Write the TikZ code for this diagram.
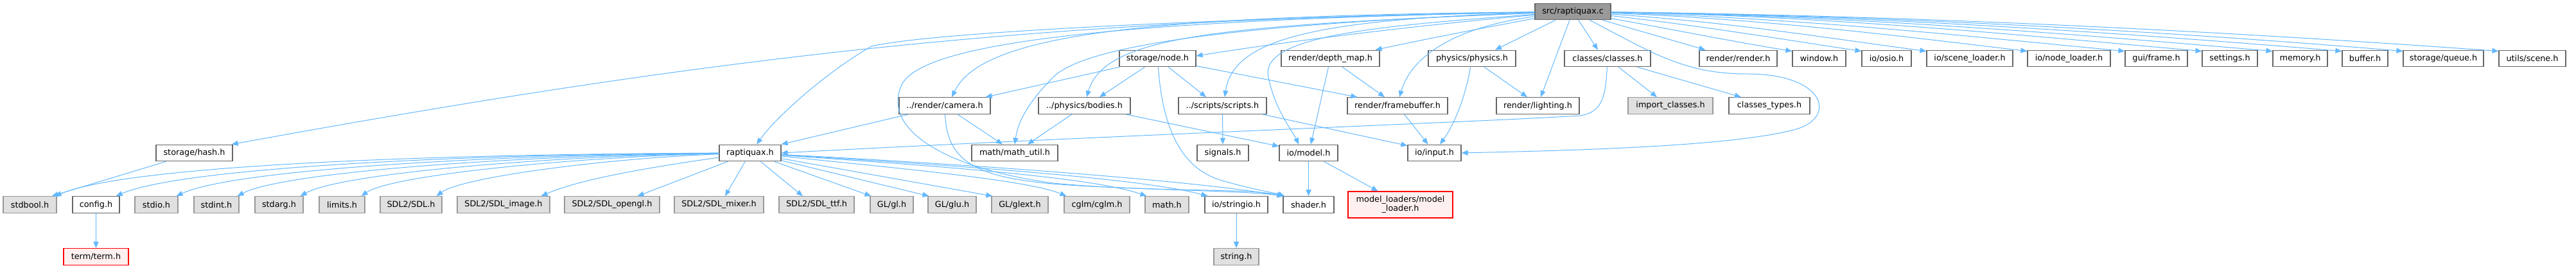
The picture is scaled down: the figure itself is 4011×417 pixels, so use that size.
\documentclass[tikz,border=0pt]{standalone}
\usepackage{fontspec}
\setmainfont{DejaVu Sans}
\usetikzlibrary{arrows.meta}
\definecolor{edgec}{HTML}{63B8FF}
\definecolor{bdark}{HTML}{666666}
\definecolor{bgray}{HTML}{999999}
\definecolor{fgray}{HTML}{E0E0E0}
\definecolor{fred}{HTML}{FFF0F0}
\newcommand{\fsz}{\fontsize{12.8}{14}\selectfont}
\tikzset{
 nb/.style={draw=bdark, fill=white, line width=1.2pt, minimum height=25.6pt, inner sep=0pt, font=\fsz, text=black},
 ng/.style={nb, draw=bgray, fill=fgray},
 nr/.style={nb, draw=red, fill=fred},
 nroot/.style={nb, fill=bgray, draw=bdark},
 e/.style={draw=edgec, line width=1pt, -{Triangle[length=10pt,width=8pt]}}
}
\begin{document}
\begin{tikzpicture}[x=1pt,y=-1pt]
\useasboundingbox (0,0) rectangle (4011,417);
% row 0
\node[nroot, minimum width=118pt] (src) at (2449,18) {src/raptiquax.c};
% row 1
\node[nb, minimum width=119pt] (node) at (1802.5,91) {storage/node.h};
\node[nb, minimum width=153pt] (depth) at (2071.5,91) {render/depth\_map.h};
\node[nb, minimum width=136pt] (physics) at (2292,91) {physics/physics.h};
\node[nb, minimum width=134pt] (classes) at (2503,91) {classes/classes.h};
\node[nb, minimum width=121pt] (render) at (2706.5,91) {render/render.h};
\node[nb, minimum width=83pt] (window) at (2832.5,91) {window.h};
\node[nb, minimum width=77pt] (osio) at (2937.5,91) {io/osio.h};
\node[nb, minimum width=134pt] (sceneld) at (3067,91) {io/scene\_loader.h};
\node[nb, minimum width=129pt] (nodeld) at (3221.5,91) {io/node\_loader.h};
\node[nb, minimum width=97pt] (frame) at (3357.5,91) {gui/frame.h};
\node[nb, minimum width=86pt] (settings) at (3472,91) {settings.h};
\node[nb, minimum width=85pt] (memory) at (3581.5,91) {memory.h};
\node[nb, minimum width=71pt] (buffer) at (3682.5,91) {buffer.h};
\node[nb, minimum width=125pt] (queue) at (3804.5,91) {storage/queue.h};
\node[nb, minimum width=104pt] (uscene) at (3943,91) {utils/scene.h};
% row 2
\node[nb, minimum width=142pt] (camera) at (1471,164.5) {../render/camera.h};
\node[nb, minimum width=143pt] (bodies) at (1688.5,164.5) {../physics/bodies.h};
\node[nb, minimum width=137pt] (scripts) at (1903.5,164.5) {../scripts/scripts.h};
\node[nb, minimum width=156pt] (fb) at (2176,164.5) {render/framebuffer.h};
\node[nb, minimum width=129pt] (light) at (2394.5,164.5) {render/lighting.h};
\node[ng, minimum width=132pt] (impcl) at (2601,164.5) {import\_classes.h};
\node[nb, minimum width=126pt] (cltypes) at (2755,164.5) {classes\_types.h};
% row 3
\node[nb, minimum width=119pt] (hash) at (302.5,238) {storage/hash.h};
\node[nb, minimum width=96pt] (rh) at (1168,238) {raptiquax.h};
\node[nb, minimum width=134pt] (mutil) at (1580,238) {math/math\_util.h};
\node[nb, minimum width=80pt] (signals) at (1904,238) {signals.h};
\node[nb, minimum width=91pt] (model) at (2037.5,238) {io/model.h};
\node[nb, minimum width=83pt] (input) at (2233.5,238) {io/input.h};
% row 4
\node[ng, minimum width=83pt] (stdbool) at (46.5,318.5) {stdbool.h};
\node[nb, minimum width=73pt] (config) at (149.5,318.5) {config.h};
\node[ng, minimum width=67pt] (stdio) at (243.5,318.5) {stdio.h};
\node[ng, minimum width=70pt] (stdint) at (337,318.5) {stdint.h};
\node[ng, minimum width=75pt] (stdarg) at (434.5,318.5) {stdarg.h};
\node[ng, minimum width=71pt] (limits) at (532.5,318.5) {limits.h};
\node[ng, minimum width=96pt] (sdl) at (640,318.5) {SDL2/SDL.h};
\node[ng, minimum width=144pt] (sdlimg) at (784,318.5) {SDL2/SDL\_image.h};
\node[ng, minimum width=148pt] (sdlgl) at (953,318.5) {SDL2/SDL\_opengl.h};
\node[ng, minimum width=139pt] (sdlmix) at (1119.5,318.5) {SDL2/SDL\_mixer.h};
\node[ng, minimum width=117pt] (sdlttf) at (1271.5,318.5) {SDL2/SDL\_ttf.h};
\node[ng, minimum width=67pt] (gl) at (1388.5,318.5) {GL/gl.h};
\node[ng, minimum width=75pt] (glu) at (1482.5,318.5) {GL/glu.h};
\node[ng, minimum width=88pt] (glext) at (1588,318.5) {GL/glext.h};
\node[ng, minimum width=102pt] (cglm) at (1708,318.5) {cglm/cglm.h};
\node[ng, minimum width=68pt] (math) at (1817,318.5) {math.h};
\node[nb, minimum width=98pt] (strio) at (1925,318.5) {io/stringio.h};
\node[nb, minimum width=79pt] (shader) at (2037.5,318.5) {shader.h};
\node[nr, minimum width=163pt, minimum height=41pt, align=center] (mload) at (2180.5,318.5) {model\_loaders/model\\\_loader.h};
% row 5
\node[nr, minimum width=101pt] (term) at (149.5,399.5) {term/term.h};
\node[ng, minimum width=70pt] (string) at (1925,399.5) {string.h};

% ---- edges from src
\draw[e] (src) .. controls (1600,30) and (1100,90) .. ([xshift=-2pt]hash.north east);
\draw[e] (src) .. controls (1900,28) and (1450,50) .. (1357,72) .. controls (1290,110) and (1210,180) .. ([xshift=10pt]rh.north);
\draw[e] (src) .. controls (1800,25) and (1530,50) .. ([xshift=11pt]camera.north);
\draw[e] (src) .. controls (1700,32) and (1440,70) .. (1405,130) .. controls (1370,200) and (1470,262) .. (1640,285) .. controls (1800,300) and (1940,292) .. ([xshift=2pt]shader.north west);
\draw[e] (src) .. controls (1850,40) and (1680,80) .. (1640,120) .. controls (1600,160) and (1585,190) .. (mutil.north);
\draw[e] (src) .. controls (1900,40) and (1720,55) .. ([xshift=3.5pt]bodies.north);
\draw[e] (src) .. controls (2200,40) and (2000,65) .. ([yshift=4pt]node.east);
\draw[e] (src) .. controls (2050,30) and (1920,60) .. ([xshift=3.5pt]scripts.north);
\draw[e] (src) .. controls (2300,45) and (2200,65) .. ([xshift=-7pt]depth.north east);
\draw[e] (src) .. controls (2280,40) and (2200,80) .. ([xshift=3pt]fb.north);
\draw[e] (src) .. controls (2150,40) and (1960,55) .. (1975,120) .. controls (1985,170) and (2010,200) .. ([xshift=-15pt]model.north);
\draw[e] (src) -- ([xshift=36pt]physics.north);
\draw[e] (src) -- ([xshift=4.5pt]light.north);
\draw[e] (src) -- ([xshift=-15pt]classes.north);
\draw[e] (src) .. controls (2570,80) and (2620,115) .. (2720,115) .. controls (2840,115) and (2860,180) .. (2800,200) .. controls (2700,230) and (2400,235) .. (input.east);
\draw[e] (src) -- ([xshift=10pt]render.north west);
\draw[e] (src) .. controls (2600,45) and (2700,65) .. ([yshift=-2pt]window.north west);
\draw[e] (src) .. controls (2650,40) and (2800,65) .. ([yshift=-2pt]osio.north west);
\draw[e] (src) .. controls (2700,35) and (2850,60) .. ([yshift=-2pt]sceneld.north west);
\draw[e] (src) .. controls (2750,30) and (2950,55) .. ([yshift=-2pt]nodeld.north west);
\draw[e] (src) .. controls (2800,28) and (3050,55) .. ([yshift=-2pt]frame.north west);
\draw[e] (src) .. controls (2850,25) and (3150,55) .. ([yshift=-2pt]settings.north west);
\draw[e] (src) .. controls (2900,25) and (3250,55) .. ([yshift=-2pt]memory.north west);
\draw[e] (src) .. controls (2950,25) and (3350,55) .. ([yshift=-2pt]buffer.north west);
\draw[e] (src) .. controls (3000,25) and (3450,55) .. ([yshift=-2pt]queue.north west);
\draw[e] (src) .. controls (3050,25) and (3550,55) .. ([yshift=-2pt]uscene.north west);

% ---- storage/node.h
\draw[e] (node) -- ([xshift=-8pt]camera.north east);
\draw[e] (node) -- ([xshift=23.5pt]bodies.north);
\draw[e] (node) -- ([xshift=-25.5pt]scripts.north);
\draw[e] (node) -- ([xshift=16pt]fb.north west);
\draw[e] (node) .. controls (1810,200) and (1840,262) .. (1900,280) .. controls (1950,295) and (1985,300) .. ([xshift=3pt]shader.north west);

% ---- camera
\draw[e] (camera) -- (rh.north east);
\draw[e] (camera) -- ([xshift=-19pt]mutil.north);
\draw[e] (camera) .. controls (1475,260) and (1530,282) .. (1700,290) .. controls (1850,297) and (1950,298) .. ([xshift=1pt]shader.north west);

% ---- bodies
\draw[e] (bodies) -- ([xshift=20pt]mutil.north);
\draw[e] (bodies) -- ([yshift=-3pt]model.north west);

% ---- scripts
\draw[e] (scripts) -- (signals);
\draw[e] (scripts) -- ([yshift=-2pt]input.north west);

% ---- depth map
\draw[e] (depth) -- ([xshift=-20pt]fb.north);
\draw[e] (depth) -- ([xshift=3.5pt]model.north);

% ---- physics
\draw[e] (physics) .. controls (2280,160) and (2260,200) .. ([xshift=8.5pt]input.north);
\draw[e] (physics) -- ([xshift=-16.5pt]light.north);

% ---- classes
\draw[e] (classes) -- ([xshift=-21pt]impcl.north);
\draw[e] (classes) -- ([xshift=-44pt]cltypes.north);
\draw[e] (classes) .. controls (2500,150) and (2495,175) .. (2460,180) .. controls (2300,190) and (1700,212) .. (rh.east);

% ---- framebuffer
\draw[e] (fb) -- ([xshift=-10pt]input.north);

% ---- model
\draw[e] (model) -- (shader);
\draw[e] (model) -- ([xshift=-35pt]mload.north);

% ---- raptiquax.h
\draw[e] (rh) .. controls (650,240) and (200,258) .. ([xshift=-3pt]stdbool.north east);
\draw[e] (rh) .. controls (700,240) and (280,262) .. ([xshift=-6pt]config.north east);
\draw[e] (rh) .. controls (750,241) and (360,265) .. ([xshift=-3pt]stdio.north east);
\draw[e] (rh) .. controls (800,242) and (440,268) .. ([xshift=-3pt]stdint.north east);
\draw[e] (rh) .. controls (850,243) and (530,270) .. ([xshift=-5pt]stdarg.north east);
\draw[e] (rh) .. controls (900,244) and (610,272) .. ([xshift=-6pt]limits.north east);
\draw[e] (rh) .. controls (950,246) and (720,275) .. ([xshift=-9pt]sdl.north east);
\draw[e] (rh) .. controls (1000,262) and (900,280) .. ([xshift=-14pt]sdlimg.north east);
\draw[e] (rh) -- ([xshift=-35pt]sdlgl.north east);
\draw[e] (rh) -- ([xshift=9.5pt]sdlmix.north);
\draw[e] (rh) -- ([xshift=-21.5pt]sdlttf.north);
\draw[e] (rh) -- ([xshift=2pt]gl.north west);
\draw[e] (rh) -- ([xshift=2pt]glu.north west);
\draw[e] (rh) -- ([xshift=2pt]glext.north west);
\draw[e] (rh) .. controls (1400,262) and (1600,280) .. ([xshift=4pt]cglm.north west);
\draw[e] (rh) .. controls (1450,258) and (1700,275) .. ([xshift=3pt]math.north west);
\draw[e] (rh) .. controls (1500,258) and (1780,278) .. ([xshift=5pt]strio.north west);
\draw[e] (rh) .. controls (1500,255) and (1850,280) .. ([xshift=1pt]shader.north west);

% ---- others
\draw[e] (hash) -- ([xshift=-8pt]stdbool.north east);
\draw[e] (config) -- (term);
\draw[e] (strio) -- (string);
\end{tikzpicture}
\end{document}
